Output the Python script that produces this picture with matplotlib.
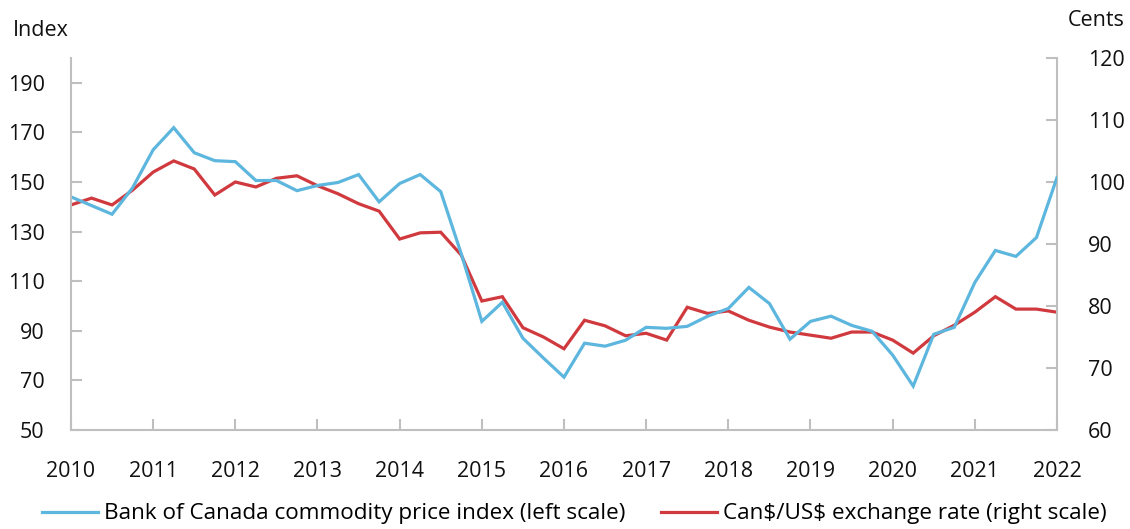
import matplotlib
matplotlib.use('Agg')
import matplotlib.pyplot as plt
import numpy as np

plt.rcParams['font.family'] = ['Open Sans', 'DejaVu Sans']

# quarterly, 2010Q1 .. 2022Q1
years = np.arange(2010, 2022.01, 0.25)
commodity = [144, 140.5, 137, 147.7, 163, 171.9, 161.8, 158.6, 158.2, 150.6,
             150.6, 146.5, 148.6, 149.8, 153, 142, 149.4, 153, 146.1, 121,
             93.8, 101.5, 87, 79, 71.3, 85, 83.8, 86.2, 91.4, 91,
             91.8, 95.9, 99, 107.5, 101, 86.6, 93.8, 95.9, 92.2, 89.8,
             80.2, 67.7, 88.6, 91.4, 109.5, 122.4, 120, 127.6, 151.8]
fx_rate = [96.3, 97.4, 96.3, 98.7, 101.6, 103.4, 102.1, 97.9, 100, 99.2,
           100.6, 101, 99.4, 98.1, 96.5, 95.3, 90.8, 91.8, 91.9, 88.2,
           80.8, 81.5, 76.5, 75, 73.1, 77.7, 76.8, 75.2, 75.6, 74.5,
           79.8, 78.8, 79.2, 77.7, 76.6, 75.8, 75.3, 74.8, 75.8, 75.8,
           74.5, 72.4, 75.2, 76.9, 79, 81.5, 79.5, 79.5, 79]
x_ticks = list(range(2010, 2023))
left_ticks = list(range(50, 200, 20))
right_ticks = list(range(60, 121, 10))

blue = '#5DB6DE'
red = '#D0393E'
grey = '#BFBFBF'
fs = 15.5

fig = plt.figure(figsize=(11.3, 5.29), dpi=100)
ax = fig.add_axes([71 / 1130, 1 - 430 / 529, (1057 - 71) / 1130, (430 - 58) / 529])
ax2 = ax.twinx()

l1, = ax.plot(years, commodity, color=blue, lw=2.3, solid_joinstyle='miter')
l2, = ax2.plot(years, fx_rate, color=red, lw=2.3, solid_joinstyle='miter')
ax2.set_zorder(1)
ax.set_zorder(2)
ax.patch.set_visible(False)

ax.set_xlim(2010, 2022)
ax.set_ylim(50, 200)
ax2.set_ylim(60, 120)
ax.set_xticks(x_ticks)
ax.set_yticks(left_ticks)
ax2.set_yticks(right_ticks)

for a in (ax, ax2):
    a.spines['top'].set_visible(False)
    for s in ('left', 'right', 'bottom'):
        a.spines[s].set_color(grey)
        a.spines[s].set_linewidth(1.5)
ax.spines['right'].set_visible(False)
ax2.spines['left'].set_visible(False)
ax2.spines['bottom'].set_visible(False)

ax.tick_params(axis='both', direction='in', length=8, width=1.5, color=grey,
               labelsize=fs, labelcolor='#111111')
ax.tick_params(axis='x', pad=22)
ax.tick_params(axis='y', pad=19)
ax2.tick_params(axis='y', direction='in', length=8, width=1.5, color=grey,
                labelsize=fs, labelcolor='#111111', pad=22)

fig.text(13 / 1130, 1 - 30 / 529, 'Index', fontsize=fs, va='center', ha='left', color='#111111')
fig.text(1125 / 1130, 1 - 20 / 529, 'Cents', fontsize=fs, va='center', ha='right', color='#111111')

fig.legend([l1, l2], ['Bank of Canada commodity price index (left scale)',
                      r'Can\$/US\$ exchange rate (right scale)'],
           loc='center', bbox_to_anchor=(574 / 1130, 1 - 514 / 529), ncol=2,
           frameon=False, fontsize=16.2, handlelength=2.5, handletextpad=0.25,
           columnspacing=1.6, borderaxespad=0, borderpad=0)

fig.savefig('out.png', dpi=100)
